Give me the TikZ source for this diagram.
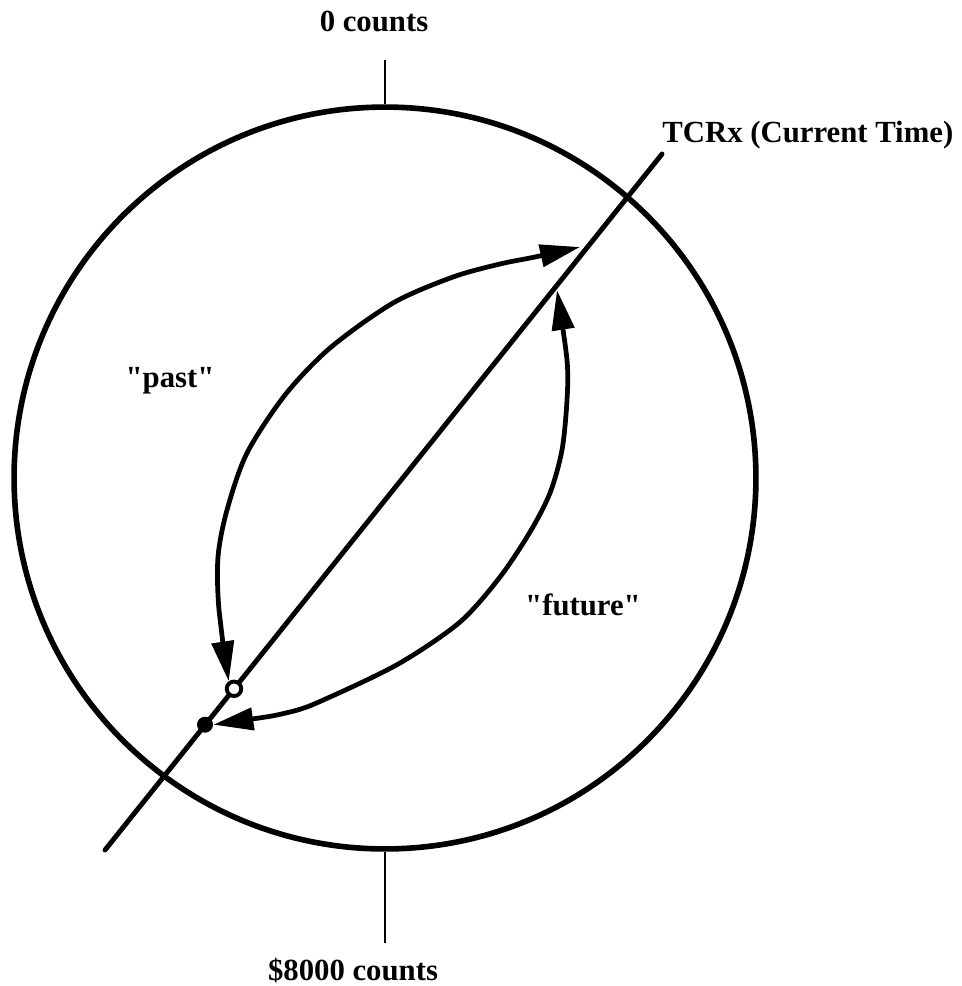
\documentclass[tikz,border=0pt]{standalone}
\usepackage{fontspec}
\setmainfont{Liberation Serif}[Ligatures=TeXOff]
\usetikzlibrary{arrows.meta}
\tikzset{lbl/.style={font=\bfseries\fontsize{17.5}{21}\selectfont,inner sep=0pt,anchor=base}}

\begin{document}
\begin{tikzpicture}[x=0.02cm,y=-0.02cm,>={Triangle[length=0.8cm,width=0.44cm]},line join=round]
\useasboundingbox (0,0) rectangle (961,986);
% --- dial and its two marks
\node[draw,circle,line width=3.2pt,minimum size=14.84cm,inner sep=0pt] (dial) at (385,478) {};
\coordinate (zeroT) at (385,60); \coordinate (halfT) at (385,943);
\draw[line width=1.5pt] (zeroT) -- (dial.north); \draw[line width=1.5pt] (dial.south) -- (halfT);
\node[lbl] (zero) at (374,32) {0 counts};
\node[lbl] (half) at (353,980) {\$8000 counts};
% --- current time line
\coordinate (tLo) at (105,850); \coordinate (tHi) at (662,154);
\draw[line width=2.8pt,line cap=round] (tLo) -- (tHi);
\node[lbl,anchor=base west] (tcr) at (662,143) {TCRx (Current Time)};
\node[circle,draw,fill=white,line width=2.2pt,minimum size=0.29cm,inner sep=0pt] (odot) at (234,688.8) {};
\node[circle,fill=black,minimum size=0.32cm,inner sep=0pt] (fdot) at (205,724.7) {};
% --- past / future sweeps
\coordinate (pastEnd) at (580,247); \coordinate (futEnd) at (557,290);
\draw[<->,line width=2.7pt] plot[smooth] coordinates {(odot.125) (219,610) (218,557) (227,510) (247,453) (285,395) (330,348) (393,303) (453,277) (500,264) (535,257) (pastEnd)};
\draw[<->,line width=2.7pt] plot[smooth] coordinates {(fdot.east) (290,712) (330,697) (400,663) (460,622) (500,577) (530,532) (550,493) (562,450) (567,400) (567,360) (futEnd)};
\node[lbl] (past) at (170,387) {"past"};
\node[lbl] (future) at (583,615) {"future"};
\end{tikzpicture}
\end{document}
